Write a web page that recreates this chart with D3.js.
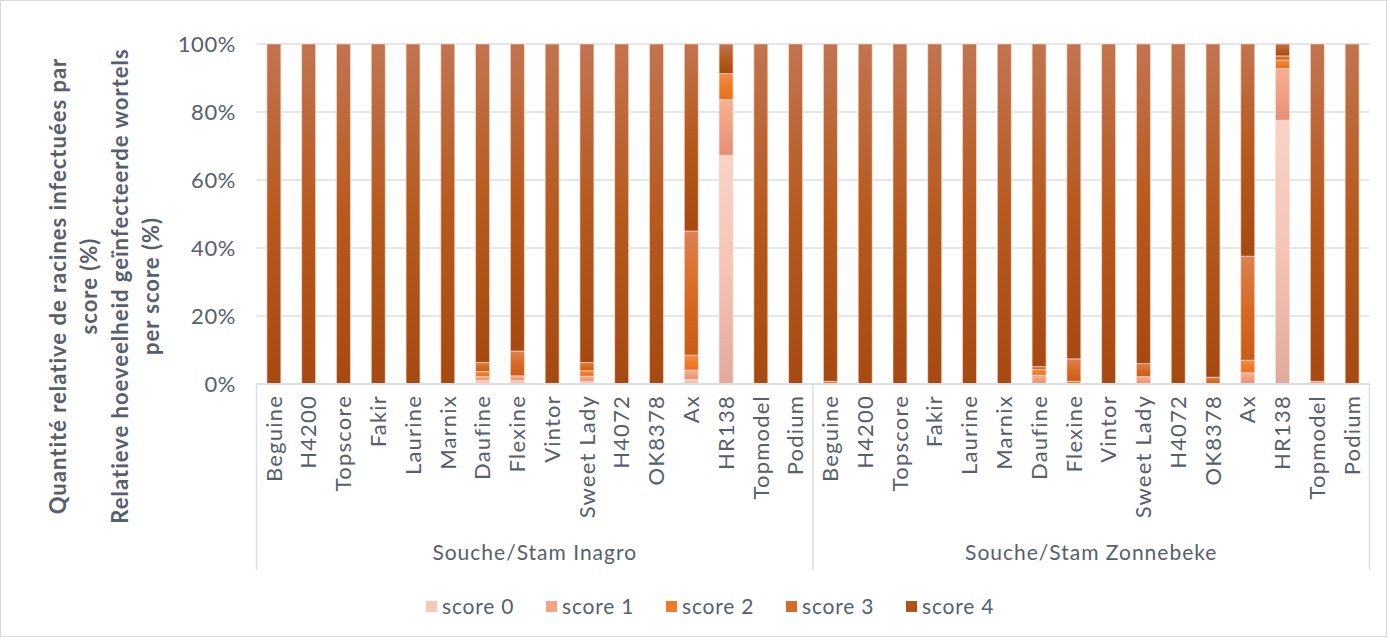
<!DOCTYPE html>
<meta charset="utf-8">
<style>
body { margin: 0; background: #fff; }
text { font-family: Lato, "Open Sans", sans-serif; fill: #56606d; }
</style>
<body>
<script src="https://d3js.org/d3.v7.min.js"></script>
<script>
var varieties = ["Beguine", "H4200", "Topscore", "Fakir", "Laurine", "Marnix", "Daufine", "Flexine",
                 "Vintor", "Sweet Lady", "H4072", "OK8378", "Ax", "HR138", "Topmodel", "Podium"];
var strains = ["Souche/Stam Inagro", "Souche/Stam Zonnebeke"];
var scoreNames = ["score 0", "score 1", "score 2", "score 3", "score 4"];
var yTicks = [0, 0.2, 0.4, 0.6, 0.8, 1];

// % of roots per score; first 16 = Inagro, last 16 = Zonnebeke
var score0 = [0, 0, 0, 0, 0, 0, 1.0, 1.0, 0, 0.8, 0, 0, 1.4, 67.3, 0, 0,
              0, 0, 0, 0, 0, 0, 0.2, 0, 0, 0, 0, 0, 0, 77.6, 0, 0];
var score1 = [0, 0, 0, 0, 0, 0, 1.2, 1.4, 0, 1.5, 0, 0, 2.7, 16.4, 0, 0,
              0, 0, 0, 0, 0, 0, 2.4, 0, 0, 2.2, 0, 0, 3.3, 15.2, 0.8, 0];
var score2 = [0, 0, 0, 0, 0, 0, 1.5, 0, 0, 1.6, 0, 0, 4.4, 7.6, 0, 0,
              0.8, 0, 0, 0, 0, 0, 1.7, 0.8, 0, 0, 0, 0, 3.7, 2.5, 0, 0];
var score3 = [0, 0, 0, 0, 0, 0, 2.6, 7.3, 0, 2.4, 0, 0, 36.5, 0, 0, 0,
              0, 0, 0, 0, 0, 0, 0.8, 6.6, 0, 3.8, 0, 2.0, 30.6, 1.2, 0, 0];
var score4 = [100, 100, 100, 100, 100, 100, 93.7, 90.3, 100, 93.7, 100, 100, 55.0, 8.7, 100, 100,
              99.2, 100, 100, 100, 100, 100, 94.9, 92.6, 100, 94.0, 100, 98.0, 62.4, 3.5, 99.2, 100];

var W = 1390, H = 640;
var plot = {left: 256.5, right: 1369.5, top: 44, bottom: 384};
var gridColor = "#dadee5";

// gradient stops per score (top, middle, bottom) + flat legend colour
var grads = [
  ["#f9d3c6", "#f5c4b4", "#e0a99c"],
  ["#f6b093", "#f1a081", "#e48f77"],
  ["#f28d50", "#ef7b28", "#e96f1e"],
  ["#dc8152", "#d76b24", "#c95d17"],
  ["#c27450", "#b75a1e", "#a64a12"]
];
var swatch = ["#f6c8ba", "#f2a485", "#ee7a2a", "#d66a28", "#b0521a"];

var keys = [];
strains.forEach(function(s, si) {
  varieties.forEach(function(v, vi) { keys.push({strain: si, variety: v, key: si + "|" + v}); });
});

var table = keys.map(function(k, i) {
  return {key: k.key, s0: score0[i], s1: score1[i], s2: score2[i], s3: score3[i], s4: score4[i]};
});
var stack = d3.stack().keys(["s0", "s1", "s2", "s3", "s4"])
    .value(function(d, key) { return d[key] / 100; });
var series = stack(table);

var x = d3.scaleBand().domain(keys.map(function(k) { return k.key; }))
    .range([plot.left, plot.right]).paddingInner(0.6).paddingOuter(0.3);
var y = d3.scaleLinear().domain([0, 1]).range([plot.bottom, plot.top]);

var svg = d3.select("body").append("svg")
    .attr("width", W)
    .attr("height", H);

svg.append("rect")
    .attr("x", 0.5).attr("y", 0.5)
    .attr("width", W - 4).attr("height", H - 4)
    .attr("fill", "#fff")
    .attr("stroke", "#d9d9d9");

var defs = svg.append("defs");
grads.forEach(function(g, i) {
  var lg = defs.append("linearGradient")
      .attr("id", "g" + i)
      .attr("x1", 0).attr("y1", 0).attr("x2", 0).attr("y2", 1);
  lg.append("stop").attr("offset", "0%").attr("stop-color", g[0]);
  lg.append("stop").attr("offset", "50%").attr("stop-color", g[1]);
  lg.append("stop").attr("offset", "100%").attr("stop-color", g[2]);
});

// gridlines
svg.append("g").selectAll("line")
    .data(yTicks.slice(1))
  .enter().append("line")
    .attr("x1", plot.left).attr("x2", plot.right)
    .attr("y1", function(d) { return y(d); })
    .attr("y2", function(d) { return y(d); })
    .attr("stroke", gridColor)
    .attr("stroke-width", 1.3);

// y tick labels
svg.append("g").selectAll("text")
    .data(yTicks)
  .enter().append("text")
    .attr("x", 236)
    .attr("y", function(d) { return y(d); })
    .attr("dy", "0.35em")
    .attr("text-anchor", "end")
    .style("font-size", "22px")
    .style("letter-spacing", "0.6px")
    .text(d3.format(".0%"));

// bars
svg.append("g").selectAll("g")
    .data(series)
  .enter().append("g")
    .attr("fill", function(d, i) { return "url(#g" + i + ")"; })
  .selectAll("rect")
    .data(function(d) { return d.filter(function(p) { return p[1] - p[0] > 0; }); })
  .enter().append("rect")
    .attr("x", function(d) { return x(d.data.key); })
    .attr("width", x.bandwidth())
    .attr("y", function(d) { return y(d[1]); })
    .attr("height", function(d) { return y(d[0]) - y(d[1]); })
    .attr("stroke", "rgba(252,222,205,0.75)")
    .attr("stroke-width", 0.8);

// category axis
svg.append("line")
    .attr("x1", plot.left).attr("x2", plot.right)
    .attr("y1", plot.bottom).attr("y2", plot.bottom)
    .attr("stroke", gridColor).attr("stroke-width", 2);

var bounds = [0, varieties.length, keys.length];
svg.append("g").selectAll("line")
    .data(bounds)
  .enter().append("line")
    .attr("x1", function(d) { return plot.left + d * x.step(); })
    .attr("x2", function(d) { return plot.left + d * x.step(); })
    .attr("y1", plot.bottom).attr("y2", 570)
    .attr("stroke", gridColor).attr("stroke-width", 1.5);

svg.append("g").selectAll("text")
    .data(keys)
  .enter().append("text")
    .attr("transform", function(d) {
      return "translate(" + (x(d.key) + x.bandwidth() / 2) + ",395) rotate(-90)";
    })
    .attr("dy", "0.35em")
    .attr("text-anchor", "end")
    .style("font-size", "22px")
    .style("letter-spacing", "1.2px")
    .text(function(d) { return d.variety; });

svg.append("g").selectAll("text")
    .data(strains)
  .enter().append("text")
    .attr("x", function(d, i) { return plot.left + (i + 0.5) * varieties.length * x.step(); })
    .attr("y", 553)
    .attr("dy", "0.35em")
    .attr("text-anchor", "middle")
    .style("font-size", "21px")
    .style("letter-spacing", "1px")
    .text(function(d) { return d; });

// y axis title
var title = ["Quantité relative de racines infectuées par", "score (%)",
             "Relatieve hoeveelheid geïnfecteerde wortels", "per score (%)"];
svg.append("g")
    .attr("transform", "translate(105,286) rotate(-90)")
  .selectAll("text")
    .data(title)
  .enter().append("text")
    .attr("x", 0)
    .attr("y", function(d, i) { return (i - 1.5) * 31; })
    .attr("dy", "0.35em")
    .attr("text-anchor", "middle")
    .style("font-size", "22px")
    .style("letter-spacing", "1px")
    .style("font-weight", "bold")
    .text(function(d) { return d; });

// legend
var legend = svg.append("g").selectAll("g")
    .data(scoreNames)
  .enter().append("g")
    .attr("transform", function(d, i) { return "translate(" + (426 + i * 120) + ",607)"; });
legend.append("rect")
    .attr("x", 0).attr("y", -6)
    .attr("width", 11).attr("height", 11)
    .attr("fill", function(d, i) { return swatch[i]; });
legend.append("text")
    .attr("x", 16)
    .attr("dy", "0.35em")
    .style("font-size", "21px")
    .style("letter-spacing", "0.8px")
    .text(function(d) { return d; });
</script>
